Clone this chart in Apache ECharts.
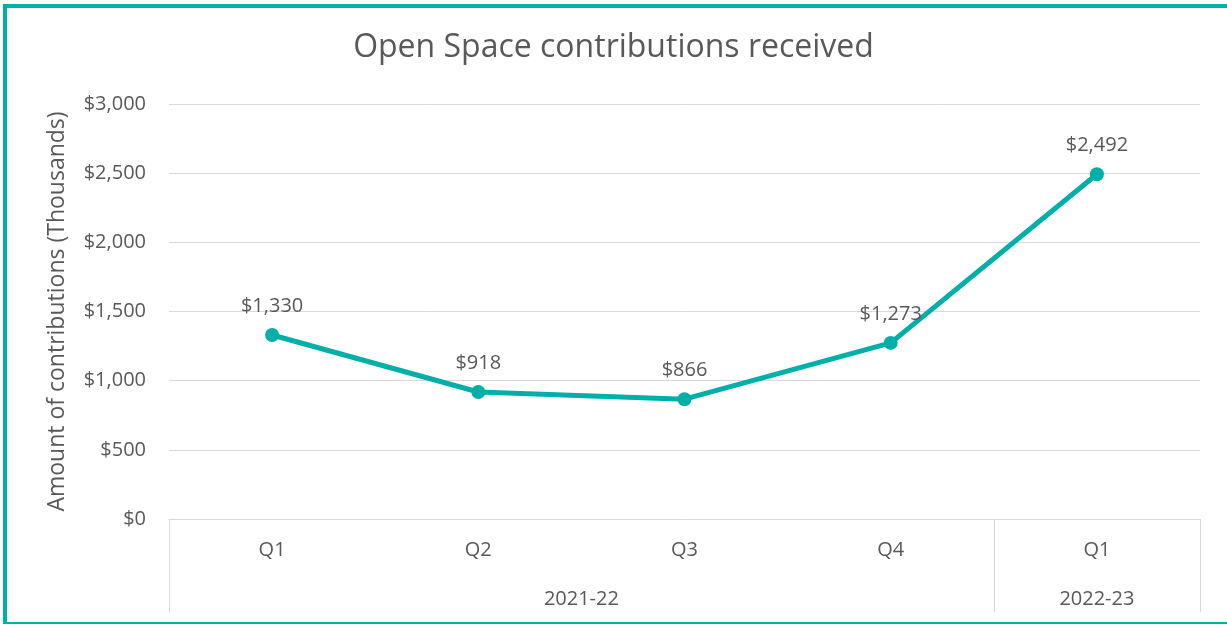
<!DOCTYPE html>
<html>
<head>
<meta charset="utf-8">
<script src="https://cdn.jsdelivr.net/npm/echarts@6/dist/echarts.min.js"></script>
<style>
    html, body { margin: 0; padding: 0; background: #fff; }
    #frame {
        position: absolute; left: 3px; top: 4px; width: 1220px; height: 614px;
        border-left: 4px solid #00B0A8; border-top: 4px solid #00B0A8;
        border-bottom: 2px solid #00B0A8; border-right: 1px solid #d8f2f0;
    }
    #chart { position: absolute; left: 0; top: 0; width: 1227px; height: 626px; }
</style>
</head>
<body>
<div id="frame"></div>
<div id="chart"></div>
<script>
// quarters and fiscal years
var quarters = ["Q1", "Q2", "Q3", "Q4", "Q1"];
var years = ["2021-22", "2022-23"];
// position of each year label, in category units (centre of its group)
var yearPos = [2, 4.5];
// contributions, $ thousands
var contributions = [1330, 918, 866, 1273, 2492];

var grey = "#595959";
var font = "Open Sans";

function money(v) {
    return "$" + Number(v).toLocaleString("en-US");
}

var myChart = echarts.init(document.getElementById("chart"));

var option = {
    animation: false,
    title: {
        text: "Open Space contributions received",
        left: "center",
        top: 27,
        textStyle: { fontFamily: font, fontSize: 32, fontWeight: "normal", color: grey }
    },
    grid: { left: 169, right: 27, top: 104, bottom: 107 },
    xAxis: [
        {
            type: "category",
            data: quarters,
            boundaryGap: true,
            axisLine: { lineStyle: { color: "#d9d9d9", width: 1 } },
            axisTick: {
                show: true,
                length: 93,
                interval: function (i) { return i === 0 || i === 4; },
                lineStyle: { color: "#d9d9d9", width: 1 }
            },
            axisLabel: {
                interval: 0, margin: 21,
                fontFamily: font, fontSize: 20, color: grey
            }
        },
        {
            type: "value",
            min: 0, max: 5, interval: 0.5,
            position: "bottom",
            axisLine: { show: false },
            axisTick: { show: false },
            splitLine: { show: false },
            axisLabel: {
                margin: 70,
                showMinLabel: true, showMaxLabel: true,
                fontFamily: font, fontSize: 20, color: grey,
                formatter: function (v) {
                    var k = yearPos.indexOf(v);
                    return k >= 0 ? years[k] : "";
                }
            }
        }
    ],
    yAxis: {
        type: "value",
        min: 0, max: 3000, interval: 500,
        name: "Amount of contributions (Thousands)",
        nameLocation: "middle",
        nameGap: 100,
        nameTextStyle: { fontFamily: font, fontSize: 23, color: grey },
        axisLine: { show: false },
        axisTick: { show: false },
        splitLine: { lineStyle: { color: "#d9d9d9", width: 1 } },
        axisLabel: {
            margin: 23,
            fontFamily: font, fontSize: 20, color: grey,
            formatter: money
        }
    },
    series: [
        {
            type: "line",
            xAxisIndex: 0,
            data: contributions,
            symbol: "circle",
            symbolSize: 14,
            itemStyle: { color: "#00B0A8" },
            lineStyle: { color: "#00B0A8", width: 5 },
            label: {
                show: true,
                position: "top",
                distance: 12,
                fontFamily: font, fontSize: 20, color: grey,
                formatter: function (p) { return money(p.value); }
            }
        }
    ]
};
myChart.setOption(option);
</script>
</body>
</html>
